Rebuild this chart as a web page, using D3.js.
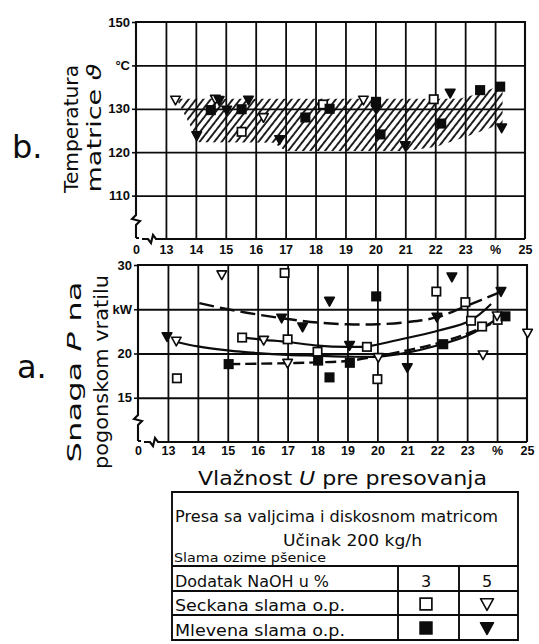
<!DOCTYPE html>
<html><head><meta charset="utf-8">
<script src="https://cdn.jsdelivr.net/npm/d3@7/dist/d3.min.js"></script>
<style>body{margin:0;background:#fff} svg{display:block}</style>
</head><body>
<svg id="c" width="539" height="644"></svg>
<script>
// ---------- tick labels ----------
const xTickValues = [12,13,14,15,16,17,18,19,20,21,22,23,24,25];
const xTickLabels = ["0","13","14","15","16","17","18","19","20","21","22","23","%","25"];
const xGridValues = [13,14,15,16,17,18,19,20,21,22,23,24];
const tempTickValues = [110,120,130,140,150];
const tempTickLabels = ["110","120","130","°C","150"];
const powerTickValues = [15,20,25,30];
const powerTickLabels = ["15","20","kW","30"];

// ---------- b. temperature of the die (°C) ----------
const tempSeckana3 = [[15.53,124.7],[18.25,131],[21.95,132.2]];
const tempSeckana5 = [[13.32,132],[14.65,132.2],[16.26,128],[19.6,132]];
const tempMlevena3 = [[14.5,129.7],[15.53,129.9],[17.66,128],[18.47,130],[20.02,131.6],[20.17,124.1],[22.2,126.6],[23.5,134.3],[24.17,135.1]];
const tempMlevena5 = [[14.03,123.8],[14.78,131.9],[15.03,129.7],[15.76,132],[16.8,122.9],[20.02,130],[21.0,121.5],[22.5,133.6],[24.22,125.6]];
// hatched scatter band
const tempBand = [[13.35,132.3],[22.8,132.3],[23.5,133.6],[24.25,135.6],[24.25,126.6],[23.05,123.6],[22.0,121.2],[21.0,120.3],[17.0,120.3],[16.6,122.2],[14.1,122.3]];

// ---------- a. power on the drive shaft (kW) ----------
const powSeckana3 = [[13.3,17.2],[15.48,21.8],[16.9,29.1],[17.0,21.6],[18.0,20.2],[19.65,20.75],[20.0,17.1],[21.97,27.0],[22.94,25.8],[23.13,23.7],[23.5,23.05],[24.02,23.8]];
const powSeckana5 = [[13.28,21.4],[14.8,28.9],[16.2,21.5],[17.0,18.9],[20.03,19.55],[23.53,19.85],[24.0,24.25],[25.02,22.3]];
const powMlevena3 = [[15.03,18.8],[18.02,19.2],[18.4,17.3],[19.08,18.95],[19.96,26.45],[22.2,21.05],[24.28,24.2]];
const powMlevena5 = [[12.97,21.9],[16.8,24.0],[17.5,23.0],[18.4,25.9],[19.07,20.9],[21.0,18.4],[21.99,24.1],[22.49,28.65],[24.13,27.0]];
// fitted curves
const curveMlevena5 = [[14.05,25.7],[15,25.0],[16,24.4],[17,23.9],[18,23.5],[19,23.3],[20,23.3],[21,23.55],[22,24.1],[23,25.4],[24.15,27.0]];
const curveSeckana3 = [[15.5,21.8],[16.2,21.55],[17,21.3],[18,20.9],[19,20.75],[19.65,20.8],[20.65,21.5],[22.05,22.6],[23.1,23.7],[23.8,25.6]];
const curveSeckana5 = [[13.3,21.3],[14,20.8],[15,20.35],[16,20.05],[17,19.85],[18,19.75],[19,19.65],[20,19.65],[21,20.1],[22,20.9],[23,22.0],[24.0,23.9]];
const curveMlevena3 = [[15.05,18.8],[16,18.85],[17,18.9],[18,19.0],[19,19.15],[20,19.7],[21,20.35],[22,21.15],[23,22.25],[24.3,24.1]];

// ---------- legend texts ----------
const legendTitle = "Presa sa valjcima i diskosnom matricom";
const legendSub = "Učinak  200 kg/h";
const legendMaterial = "Slama ozime pšenice";
const legendHeader = ["Dodatak NaOH u %", "3", "5"];
const legendRows = ["Seckana slama o.p.", "Mlevena slama o.p."];

const svg = d3.select("#c");
const INK = "#0c0c0c";
const tickFont = "'Liberation Sans Narrow','Arial Narrow','Liberation Sans',sans-serif";
const textFont = "'DejaVu Sans','Liberation Sans',sans-serif";

const defs = svg.append("defs");
const pat = defs.append("pattern").attr("id","hatch").attr("patternUnits","userSpaceOnUse")
  .attr("width",5.8).attr("height",10).attr("patternTransform","rotate(38)");
pat.append("line").attr("x1",1).attr("y1",0).attr("x2",1).attr("y2",10)
  .attr("stroke",INK).attr("stroke-width",1.8);

const xT = d3.scaleLinear([12,25],[136,525]);
const yT = d3.scaleLinear([100,150],[239,22]);
const xP = d3.scaleLinear([12,25],[138,527]);
const yP = d3.scaleLinear([10,30],[442,265]);

function panel(x, y, yTicks, yLabels, breakY, labelPad){
  const g = svg.append("g");
  const [x0,x1] = x.range(); const [yb,yt] = y.range();
  // grid
  g.append("g").attr("transform",`translate(0,${yb})`)
    .call(d3.axisBottom(x).tickValues(xGridValues).tickSize(-(yb-yt)).tickFormat(""))
    .call(s=>s.select(".domain").remove())
    .call(s=>s.selectAll("line").attr("stroke",INK).attr("stroke-width",1.8));
  g.append("g").attr("transform",`translate(${x0},0)`)
    .call(d3.axisRight(y).tickValues(yTicks.filter(v=>v<y.domain()[1])).tickSize(x1-x0).tickFormat(""))
    .call(s=>s.select(".domain").remove())
    .call(s=>s.selectAll("line").attr("stroke",INK).attr("stroke-width",1.8));
  // frame with breaks
  const bx = x0 + 16;
  const p = d3.path();
  p.moveTo(x1, yb); p.lineTo(x1, yt); p.lineTo(x0, yt);
  p.lineTo(x0, breakY-5); p.lineTo(x0-4, breakY-1); p.lineTo(x0+4, breakY+1); p.lineTo(x0, breakY+5);
  p.lineTo(x0, yb-1);
  g.append("path").attr("d",p.toString()).attr("fill","none").attr("stroke",INK).attr("stroke-width",2.1);
  const q = d3.path();
  q.moveTo(x0, yb-1); q.lineTo(x0+3, yb-1);
  q.moveTo(x0+6, yb); q.lineTo(bx-4, yb); q.lineTo(bx-1, yb+4); q.lineTo(bx+1, yb-4); q.lineTo(bx+4, yb);
  q.lineTo(x1, yb);
  g.append("path").attr("d",q.toString()).attr("fill","none").attr("stroke",INK).attr("stroke-width",2.1);
  // left tick labels
  g.append("g").attr("transform",`translate(${x0},0)`)
    .call(d3.axisLeft(y).tickValues(yTicks).tickFormat((d,i)=>yLabels[i]).tickSize(4).tickPadding(2))
    .call(s=>s.select(".domain").remove())
    .call(s=>s.selectAll("line").attr("stroke",INK).attr("stroke-width",1.6))
    .call(s=>s.selectAll("text").attr("fill",INK).style("font-family",tickFont).style("font-weight","bold").style("font-size","13px"));
  // bottom tick labels
  g.append("g").attr("transform",`translate(0,${yb})`)
    .call(d3.axisBottom(x).tickValues(xTickValues).tickFormat((d,i)=>xTickLabels[i]).tickSize(0).tickPadding(labelPad))
    .call(s=>s.select(".domain").remove())
    .call(s=>s.selectAll("text").attr("fill",INK).style("font-family",tickFont).style("font-weight","bold").style("font-size","12.5px"));
  return g;
}

function markers(g, data, kind, x, y, s){
  s = s || 1;
  const filled = kind[0]==="f";
  if (kind.endsWith("sq")) {
    g.selectAll(null).data(data).join("rect")
      .attr("x",d=>x(d[0])-4.2*s).attr("y",d=>y(d[1])-4.2*s)
      .attr("width",8.4*s).attr("height",8.4*s)
      .attr("fill",filled?INK:"#fff").attr("stroke",INK).attr("stroke-width",1.7);
  } else {
    g.selectAll(null).data(data).join("path")
      .attr("transform",d=>`translate(${x(d[0])},${y(d[1])})`)
      .attr("d",`M${-4.8*s},${-3.9*s}L${4.8*s},${-3.9*s}L0,${4.8*s}Z`)
      .attr("fill",filled?INK:"#fff").attr("stroke",INK).attr("stroke-width",1.6).attr("stroke-linejoin","round");
  }
}

// ---------- panel b ----------
const gT = panel(xT, yT, tempTickValues, tempTickLabels, 220, 6.5);
gT.append("path").datum(tempBand)
  .attr("d", d3.line().x(d=>xT(d[0])).y(d=>yT(d[1])).curve(d3.curveLinearClosed))
  .attr("fill","url(#hatch)").attr("stroke","none");
markers(gT, tempSeckana3, "osq", xT, yT);
markers(gT, tempSeckana5, "otri", xT, yT);
markers(gT, tempMlevena3, "fsq", xT, yT);
markers(gT, tempMlevena5, "ftri", xT, yT);

// ---------- panel a ----------
const gP = panel(xP, yP, powerTickValues, powerTickLabels, 420, 4.5);
const lineP = d3.line().x(d=>xP(d[0])).y(d=>yP(d[1])).curve(d3.curveCatmullRom.alpha(0.5));
gP.append("path").datum(curveMlevena5).attr("d",lineP).attr("fill","none")
  .attr("stroke",INK).attr("stroke-width",2.4).attr("stroke-dasharray","15,6");
gP.append("path").datum(curveSeckana3).attr("d",lineP).attr("fill","none")
  .attr("stroke",INK).attr("stroke-width",2.2);
gP.append("path").datum(curveSeckana5).attr("d",lineP).attr("fill","none")
  .attr("stroke",INK).attr("stroke-width",2.2);
gP.append("path").datum(curveMlevena3).attr("d",lineP).attr("fill","none")
  .attr("stroke",INK).attr("stroke-width",2.4).attr("stroke-dasharray","11,5");
markers(gP, powSeckana3, "osq", xP, yP);
markers(gP, powSeckana5, "otri", xP, yP);
markers(gP, powMlevena3, "fsq", xP, yP);
markers(gP, powMlevena5, "ftri", xP, yP);

// ---------- axis titles ----------
function vtext(x, y, len, size, parts){
  const t = svg.append("text").attr("transform",`translate(${x},${y}) rotate(-90)`)
    .attr("text-anchor","middle").attr("fill",INK)
    .style("font-family",textFont).style("font-size",size+"px")
    .attr("textLength",len).attr("lengthAdjust","spacingAndGlyphs");
  parts.forEach(p=>t.append("tspan").text(p[0]).style("font-style",p[1]?"italic":"normal"));
}
vtext(78, 129, 128, 19, [["Temperatura",false]]);
vtext(101, 128, 129, 19, [["matrice ",false],["ϑ",true]]);
vtext(81, 372, 181, 19, [["Snaga ",false],["P",true],[" na",false]]);
vtext(108, 372, 194, 19, [["pogonskom vratilu",false]]);

svg.append("text").attr("x",12).attr("y",158).text("b.")
  .attr("fill",INK).style("font-family",textFont).style("font-size","32px");
svg.append("text").attr("x",17).attr("y",378).text("a.")
  .attr("fill",INK).style("font-family",textFont).style("font-size","32px");

const xt = svg.append("text").attr("x",198).attr("y",485).attr("fill",INK)
  .style("font-family",textFont).style("font-size","20px")
  .attr("textLength",289).attr("lengthAdjust","spacingAndGlyphs");
xt.append("tspan").text("Vlažnost ");
xt.append("tspan").text("U").style("font-style","italic");
xt.append("tspan").text(" pre presovanja");

// ---------- legend table ----------
const L = svg.append("g");
const tl=172, tr=518, tt=492, c1=398, c2=459;
const hl=[566,591,615,640];
const tb = d3.path();
tb.moveTo(tl,tt); tb.lineTo(tr,tt); tb.lineTo(tr,hl[3]); tb.lineTo(tl,hl[3]); tb.closePath();
hl.slice(0,3).forEach(yv=>{tb.moveTo(tl,yv); tb.lineTo(tr,yv);});
[c1,c2].forEach(xv=>{tb.moveTo(xv,hl[0]); tb.lineTo(xv,hl[3]);});
L.append("path").attr("d",tb.toString()).attr("fill","none").attr("stroke",INK).attr("stroke-width",1.9);
function ltext(str, x, y, size, len, anchor){
  const t = L.append("text").attr("x",x).attr("y",y).text(str).attr("fill",INK)
    .style("font-family",textFont).style("font-size",size+"px")
    .attr("text-anchor",anchor||"start");
  if (len) t.attr("textLength",len).attr("lengthAdjust","spacingAndGlyphs");
  return t;
}
ltext(legendTitle, 175, 522, 16, 323);
ltext(legendSub, 283, 546, 16, 139);
ltext(legendMaterial, 174, 562, 13, 152);
ltext(legendHeader[0], 175, 587, 16, 154);
ltext(legendHeader[1], 426, 587, 16, null, "middle");
ltext(legendHeader[2], 487, 587, 16, null, "middle");
ltext(legendRows[0], 175, 611, 16, 170);
ltext(legendRows[1], 175, 636, 16, 170);
const lx = d3.scaleLinear([0,1],[426,487]);
const ly = d3.scaleLinear([0,1],[604,628]);
markers(L, [[0,0]], "osq", lx, ly, 1.4);
markers(L, [[1,0]], "otri", lx, ly, 1.35);
markers(L, [[0,1]], "fsq", lx, ly, 1.4);
markers(L, [[1,1]], "ftri", lx, ly, 1.35);
</script>
</body></html>
